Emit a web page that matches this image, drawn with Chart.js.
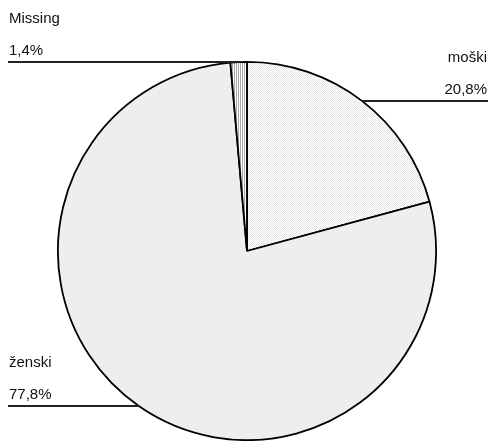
<!DOCTYPE html>
<html>
<head>
<meta charset="utf-8">
<script src="https://cdn.jsdelivr.net/npm/chart.js@4"></script>
<style>
    html, body { margin: 0; padding: 0; background: #ffffff; }
    #wrap { width: 489px; height: 441px; }
</style>
</head>
<body>
<div id="wrap"><canvas id="spolChart" width="489" height="441"></canvas></div>
<script>
// Datos del gráfico
const categorias = ['moški', 'ženski', 'Missing'];
const porcentajes = [20.8, 77.8, 1.4];
const etiquetas = ['20,8%', '77,8%', '1,4%'];

// Patrones de relleno
function crearPatron(w, h, dibujar) {
    const c = document.createElement('canvas');
    c.width = w;
    c.height = h;
    const ctx = c.getContext('2d');
    dibujar(ctx);
    return ctx.createPattern(c, 'repeat');
}

const ctxBase = document.getElementById('spolChart').getContext('2d');

const patronPuntos = crearPatron(2, 2, ctx => {
    ctx.fillStyle = '#ffffff';
    ctx.fillRect(0, 0, 2, 2);
    ctx.fillStyle = '#e6e6e6';
    ctx.fillRect(0, 0, 1, 1);
    ctx.fillRect(1, 1, 1, 1);
});

const patronLineas = crearPatron(2, 2, ctx => {
    ctx.fillStyle = '#ffffff';
    ctx.fillRect(0, 0, 2, 2);
    ctx.fillStyle = '#a8a8a8';
    ctx.fillRect(0, 0, 1, 2);
});

const colores = [patronPuntos, '#eeeeee', patronLineas];

// Etiquetas con línea guía
const etiquetasPlugin = {
    id: 'etiquetasPlugin',
    afterDraw(chart) {
        const ctx = chart.ctx;
        const meta = chart.getDatasetMeta(0);
        ctx.save();
        ctx.font = '15px "Liberation Sans", Arial, sans-serif';
        ctx.fillStyle = '#111111';
        ctx.strokeStyle = '#222222';
        ctx.lineWidth = 2;
        meta.data.forEach((arc, i) => {
            const medio = (arc.startAngle + arc.endAngle) / 2;
            const px = arc.x + Math.cos(medio) * arc.outerRadius;
            const py = Math.round(arc.y + Math.sin(medio) * arc.outerRadius);
            const izquierda = px < arc.x;
            const xBorde = izquierda ? 8 : chart.width - 1;

            ctx.beginPath();
            ctx.moveTo(xBorde, py);
            ctx.lineTo(px, py);
            ctx.stroke();

            ctx.textAlign = izquierda ? 'left' : 'right';
            ctx.textBaseline = 'alphabetic';
            const xTexto = izquierda ? 9 : chart.width - 2;
            ctx.fillText(categorias[i], xTexto, py - 39);
            ctx.fillText(etiquetas[i], xTexto, py - 7);
        });
        ctx.restore();
    }
};

new Chart(ctxBase, {
    type: 'pie',
    data: {
        labels: categorias,
        datasets: [{
            data: porcentajes,
            backgroundColor: colores,
            borderColor: '#000000',
            borderWidth: 1.8
        }]
    },
    options: {
        responsive: false,
        animation: false,
        layout: {
            padding: { top: 61, bottom: -3, left: 57, right: 52 }
        },
        plugins: {
            legend: { display: false },
            tooltip: { enabled: false }
        }
    },
    plugins: [etiquetasPlugin]
});
</script>
</body>
</html>
